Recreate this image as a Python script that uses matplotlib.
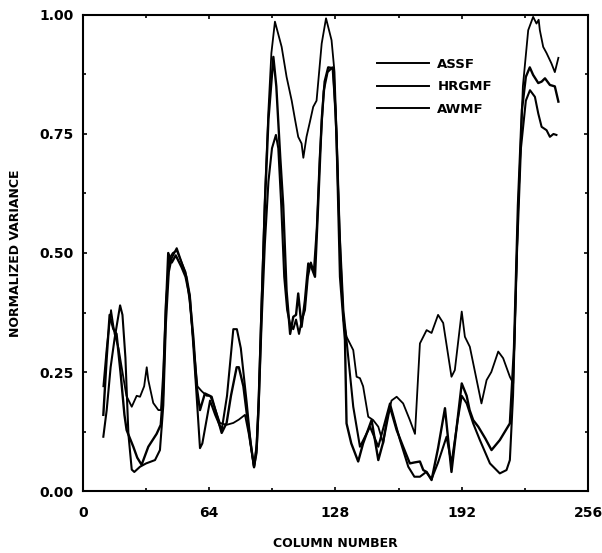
import numpy as np
import matplotlib
matplotlib.use("Agg")
import matplotlib.pyplot as plt
from matplotlib.ticker import MultipleLocator, FormatStrFormatter

# values (column number, normalized variance)
assf_x = [10.3, 12, 14.2, 16, 18, 20, 22, 24.7, 27.2, 28.9, 31, 32.3, 33.1, 35.6, 38.2, 39.5,
          40.7, 42, 44, 45.5, 47.5, 50, 52, 54, 56, 58, 60.1, 62.7, 64.4, 66, 69.4, 72.8, 76.2,
          79, 82.1, 84, 86.7, 88, 89, 90.5, 92.2, 94, 95.5, 97.3, 100.7, 103.2, 105.8, 107.5,
          109.1, 110.8, 111.7, 113.3, 115, 116.7, 118.4, 121, 123.2, 126, 127.5, 129, 130.5,
          132, 133.6, 137, 138.7, 140.4, 142, 144.6, 147.1, 149.7, 152.2, 154, 156.4, 159,
          162.3, 165.7, 168.3, 170.8, 174.2, 176.7, 180, 182.6, 186.8, 188.5, 192, 193.6,
          196.1, 202, 204.6, 207, 210.5, 213, 216.4, 218.1, 220.7, 223, 225.7, 228.2, 229.9,
          231, 231.6, 233.3, 235, 237.5, 239.2, 241]
assf_y = [0.22, 0.30, 0.38, 0.33, 0.30, 0.25, 0.20, 0.177, 0.20, 0.198, 0.22, 0.26, 0.233,
          0.185, 0.17, 0.17, 0.254, 0.40, 0.49, 0.50, 0.505, 0.48, 0.46, 0.40, 0.31, 0.22, 0.21,
          0.20, 0.20, 0.185, 0.143, 0.139, 0.143, 0.15, 0.16, 0.12, 0.05, 0.10, 0.19, 0.40, 0.62,
          0.80, 0.92, 0.986, 0.933, 0.87, 0.82, 0.78, 0.744, 0.73, 0.70, 0.744, 0.775, 0.807,
          0.82, 0.94, 0.993, 0.947, 0.88, 0.70, 0.50, 0.36, 0.324, 0.296, 0.24, 0.237, 0.22,
          0.156, 0.149, 0.135, 0.10, 0.15, 0.19, 0.198, 0.184, 0.149, 0.12, 0.31, 0.338, 0.332,
          0.37, 0.353, 0.24, 0.254, 0.377, 0.324, 0.303, 0.184, 0.233, 0.25, 0.293, 0.279, 0.24,
          0.226, 0.604, 0.85, 0.968, 0.996, 0.982, 0.99, 0.968, 0.933, 0.92, 0.898, 0.88, 0.91]

hrgmf_x = [10.3, 12, 13.5, 15.4, 17, 19, 21, 22.1, 25.5, 27.5, 29.7, 33.1, 37.3, 39.4, 40.5,
           42, 43.2, 45, 47, 50, 52, 54, 56, 57.6, 59.3, 61.8, 65.2, 70.3, 72.8, 75, 77.9, 79,
           81.3, 84, 86.7, 88, 89, 90.5, 92.2, 94, 96.5, 98, 100, 101.5, 103.2, 105, 106.6, 108,
           109.1, 110.8, 112.5, 114.2, 115.8, 117.6, 119.3, 121, 122.5, 124.3, 126.9, 128.5,
           130.3, 132.8, 133.6, 136, 139.5, 142, 146.3, 149.7, 152, 155.6, 159, 162.3, 165.7,
           168, 170.8, 172.5, 174.2, 176.7, 180, 183.5, 186.8, 192, 194.5, 196, 197.8, 200.4,
           204, 207.1, 211.3, 216.4, 218.5, 220.5, 222.5, 224.5, 226.5, 228.2, 230.8, 232.5,
           234.2, 236.7, 239.2, 241]
hrgmf_y = [0.16, 0.28, 0.37, 0.34, 0.33, 0.25, 0.16, 0.128, 0.093, 0.07, 0.055, 0.093, 0.12,
           0.139, 0.20, 0.38, 0.50, 0.48, 0.495, 0.47, 0.45, 0.41, 0.32, 0.22, 0.17, 0.205, 0.198,
           0.122, 0.143, 0.20, 0.26, 0.26, 0.22, 0.13, 0.05, 0.09, 0.18, 0.38, 0.60, 0.78, 0.912,
           0.85, 0.70, 0.60, 0.42, 0.33, 0.366, 0.37, 0.415, 0.345, 0.40, 0.478, 0.47, 0.45, 0.61,
           0.78, 0.86, 0.89, 0.888, 0.75, 0.45, 0.317, 0.142, 0.10, 0.062, 0.10, 0.149, 0.065,
           0.10, 0.177, 0.128, 0.093, 0.058, 0.06, 0.062, 0.044, 0.04, 0.023, 0.09, 0.174, 0.04,
           0.226, 0.20, 0.17, 0.149, 0.135, 0.11, 0.086, 0.107, 0.142, 0.30, 0.60, 0.80, 0.87,
           0.89, 0.874, 0.857, 0.86, 0.867, 0.853, 0.85, 0.818]

awmf_x = [10.3, 12, 14, 16, 18.8, 20, 21.5, 23, 24.7, 26, 28.9, 32, 36.5, 39, 40.7, 42, 43.5,
          45, 47.5, 50, 52.5, 54.2, 56, 57.6, 59.3, 60.5, 64.4, 67, 70.3, 73, 76.2, 78, 80, 83,
          85, 86.7, 88, 89, 90.5, 92.2, 94, 95.8, 97.8, 99, 100.5, 102, 103.5, 105, 106.6, 108,
          109.5, 111, 112.5, 114, 115.5, 117, 118.5, 120, 122, 124, 126.5, 128, 130, 132, 134,
          135.3, 137, 140.4, 145.5, 149.7, 155.6, 160.7, 164.9, 168, 170.8, 174, 176.7, 180,
          184.3, 186.8, 190, 192, 194.5, 197.8, 201.2, 206.3, 211.3, 214.7, 216.4, 218, 220,
          222, 224.5, 226.6, 229.1, 230.8, 232.5, 235, 236.7, 238.5, 240]
awmf_y = [0.114, 0.17, 0.26, 0.32, 0.39, 0.37, 0.28, 0.12, 0.045, 0.04, 0.051, 0.058, 0.065,
          0.086, 0.18, 0.35, 0.46, 0.49, 0.51, 0.48, 0.45, 0.41, 0.30, 0.20, 0.09, 0.10, 0.19,
          0.16, 0.128, 0.20, 0.34, 0.34, 0.30, 0.185, 0.10, 0.05, 0.08, 0.17, 0.35, 0.52, 0.65,
          0.72, 0.748, 0.72, 0.60, 0.45, 0.38, 0.35, 0.34, 0.36, 0.33, 0.36, 0.38, 0.45, 0.48,
          0.46, 0.55, 0.70, 0.84, 0.88, 0.89, 0.80, 0.55, 0.38, 0.30, 0.247, 0.177, 0.093, 0.135,
          0.093, 0.184, 0.107, 0.051, 0.03, 0.03, 0.04, 0.025, 0.06, 0.114, 0.058, 0.15, 0.20,
          0.184, 0.142, 0.107, 0.058, 0.037, 0.044, 0.065, 0.20, 0.50, 0.72, 0.82, 0.842, 0.828,
          0.793, 0.765, 0.758, 0.744, 0.75, 0.748]

series_names = ["ASSF", "HRGMF", "AWMF"]

plt.rcParams['font.family'] = ['DejaVu Sans']
plt.rcParams['font.weight'] = 'bold'

fig = plt.figure(figsize=(6.02, 5.53), dpi=100)
ax = fig.add_axes([0.1379, 0.1121, 0.8388, 0.8608])

ax.plot(assf_x, assf_y, color='black', lw=1.3, label=series_names[0])
ax.plot(hrgmf_x, hrgmf_y, color='black', lw=1.7, label=series_names[1])
ax.plot(awmf_x, awmf_y, color='black', lw=1.5, label=series_names[2])

ax.set_xlim(0, 256)
ax.set_ylim(0, 1)
ax.xaxis.set_major_locator(MultipleLocator(64))
ax.xaxis.set_minor_locator(MultipleLocator(32))
ax.yaxis.set_major_locator(MultipleLocator(0.25))
ax.yaxis.set_minor_locator(MultipleLocator(0.125))
ax.yaxis.set_major_formatter(FormatStrFormatter('%.2f'))
ax.tick_params(which='both', direction='in', top=True, right=True, width=1.2)
ax.tick_params(which='major', length=3, labelsize=10)
ax.tick_params(axis='x', which='major', pad=11)
ax.tick_params(axis='y', which='major', pad=7)
ax.tick_params(which='minor', length=2)
for s in ax.spines.values():
    s.set_linewidth(1.5)

ax.set_xlabel("COLUMN NUMBER", fontsize=9, fontweight='bold', labelpad=12)
ax.set_ylabel("NORMALIZED VARIANCE", fontsize=9, fontweight='bold', labelpad=12)

# legend sits inside the plot, between the two groups of peaks
leg = ax.legend(loc='upper left', bbox_to_anchor=(0.558, 0.935), frameon=False,
                handlelength=4.0, handletextpad=0.6, labelspacing=0.72,
                prop={'size': 9.5, 'weight': 'bold'})
for h in leg.get_lines():
    h.set_linewidth(1.4)

fig.savefig("out.png", dpi=100)
